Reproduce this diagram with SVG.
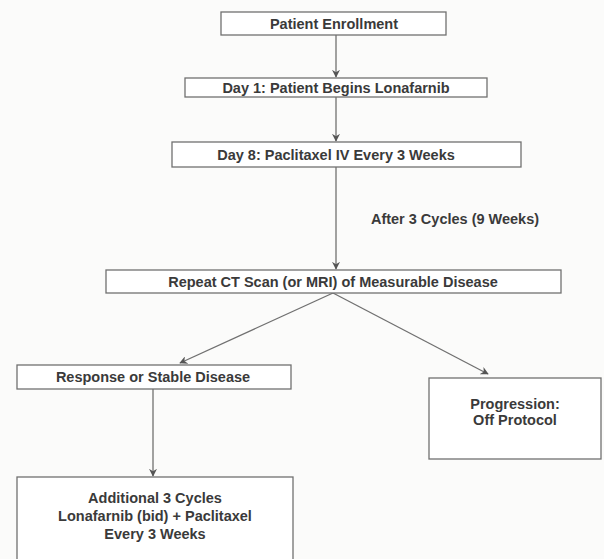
<svg xmlns="http://www.w3.org/2000/svg" width="604" height="559" viewBox="0 0 604 559">
  <style>
    .box { fill: #ffffff; stroke: #707070; stroke-width: 1.3; }
    .lbl { font-family: "Liberation Sans", Arial, sans-serif; font-size: 14.5px; fill: #3a3a3a; text-anchor: middle; font-weight: bold; }
    .edge { stroke: #707070; stroke-width: 1.3; fill: none; marker-end: url(#head); }
  </style>
  <defs>
    <marker id="head" viewBox="0 0 10 10" refX="9" refY="5" markerWidth="8" markerHeight="8" orient="auto" markerUnits="userSpaceOnUse">
      <path d="M0,0 L10,5 L0,10 L3,5 Z" fill="#555555"/>
    </marker>
  </defs>
  <rect width="604" height="559" fill="#fbfbfa"/>

  <!-- flow connectors -->
  <g id="connectors">
    <line class="edge" x1="336" y1="35" x2="336" y2="77"/>
    <line class="edge" x1="336" y1="97" x2="336" y2="141"/>
    <line class="edge" x1="336" y1="167" x2="336" y2="269"/>
    <line class="edge" x1="333" y1="293" x2="180" y2="363"/>
    <line class="edge" x1="333" y1="293" x2="488" y2="374"/>
    <line class="edge" x1="153" y1="389" x2="153" y2="476"/>
  </g>

  <g id="enrollment">
    <rect class="box" x="221" y="12" width="225" height="23"/>
    <text class="lbl" x="334" y="29">Patient Enrollment</text>
  </g>
  <g id="day1">
    <rect class="box" x="185" y="78" width="302" height="19"/>
    <text class="lbl" x="336" y="93">Day 1: Patient Begins Lonafarnib</text>
  </g>
  <g id="day8">
    <rect class="box" x="172" y="142" width="349" height="25"/>
    <text class="lbl" x="336" y="160">Day 8: Paclitaxel IV Every 3 Weeks</text>
  </g>
  <g id="cycle-note">
    <text class="lbl" x="455" y="224">After 3 Cycles (9 Weeks)</text>
  </g>
  <g id="repeat-scan">
    <rect class="box" x="106" y="270" width="455" height="23"/>
    <text class="lbl" x="333" y="287">Repeat CT Scan (or MRI) of Measurable Disease</text>
  </g>
  <g id="response">
    <rect class="box" x="17" y="365" width="274" height="24"/>
    <text class="lbl" x="153" y="382">Response or Stable Disease</text>
  </g>
  <g id="progression">
    <rect class="box" x="429" y="378" width="172" height="81"/>
    <text class="lbl" x="515" y="409">Progression:</text>
    <text class="lbl" x="515" y="425">Off Protocol</text>
  </g>
  <g id="additional">
    <rect class="box" x="17" y="477" width="276" height="90"/>
    <text class="lbl" x="155" y="503">Additional 3 Cycles</text>
    <text class="lbl" x="155" y="521">Lonafarnib (bid) + Paclitaxel</text>
    <text class="lbl" x="155" y="539">Every 3 Weeks</text>
  </g>
</svg>
